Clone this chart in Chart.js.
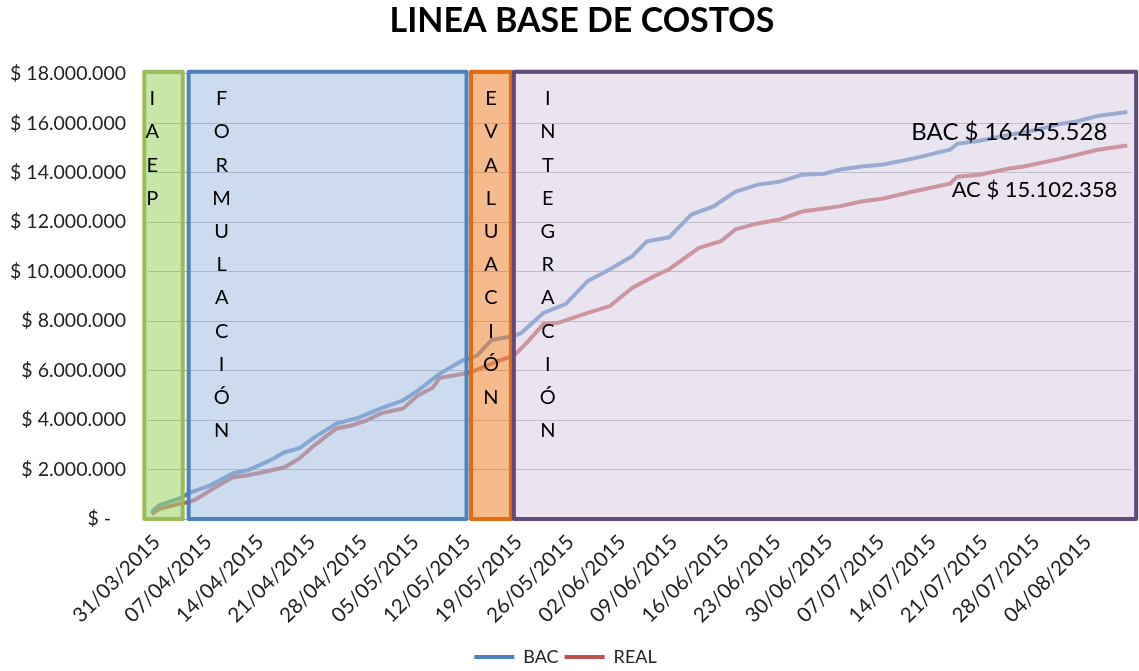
<!DOCTYPE html>
<html>
<head>
<meta charset="utf-8">
<script src="https://cdn.jsdelivr.net/npm/chart.js@4/dist/chart.umd.min.js"></script>
<style>
  html, body { margin: 0; padding: 0; background: #fff; }
</style>
</head>
<body>
<canvas id="costChart" width="1139" height="671"></canvas>
<script>
// dias contados desde 31/03/2015
const tickDays = [0, 7, 14, 21, 28, 35, 42, 49, 56, 63, 70, 77, 84, 91, 98, 105, 112, 119, 126];
const tickLabels = ['31/03/2015', '07/04/2015', '14/04/2015', '21/04/2015', '28/04/2015', '05/05/2015',
  '12/05/2015', '19/05/2015', '26/05/2015', '02/06/2015', '09/06/2015', '16/06/2015', '23/06/2015',
  '30/06/2015', '07/07/2015', '14/07/2015', '21/07/2015', '28/07/2015', '04/08/2015'];

const bacDays = [0, 1, 4, 5, 8, 11, 13, 16, 18, 20, 22, 25, 28, 31, 34, 36, 39, 42, 44, 46,
  49, 50, 53, 56, 59, 62, 65, 67, 70, 73, 76, 79, 82, 85, 88, 91, 93, 96, 99, 103,
  108, 109, 112, 116, 119, 123, 125, 128, 132];
const bacValues = [280000, 560000, 850000, 1050000, 1370000, 1850000, 1970000, 2370000, 2700000, 2860000,
  3300000, 3860000, 4100000, 4470000, 4790000, 5190000, 5880000, 6400000, 6600000, 7240000,
  7400000, 7520000, 8330000, 8690000, 9620000, 10100000, 10620000, 11230000, 11390000, 12310000,
  12640000, 13240000, 13520000, 13640000, 13920000, 13960000, 14120000, 14250000, 14330000, 14570000,
  14930000, 15170000, 15290000, 15530000, 15690000, 15980000, 16060000, 16300000, 16455528];

const realDays = [0, 1, 4, 5, 6, 8, 11, 13, 15, 18, 20, 22, 25, 27, 29, 31, 34, 36, 38, 39,
  43, 47, 49, 51, 53, 55, 59, 62, 65, 68, 70, 74, 77, 79, 82, 85, 88, 91, 93, 96,
  99, 103, 108, 109, 112, 116, 118, 123, 128, 132];
const realValues = [200000, 400000, 640000, 680000, 800000, 1170000, 1690000, 1770000, 1890000, 2090000,
  2450000, 2980000, 3660000, 3780000, 3980000, 4270000, 4470000, 4990000, 5310000, 5710000,
  5910000, 6400000, 6600000, 7200000, 7890000, 7930000, 8330000, 8610000, 9340000, 9820000,
  10100000, 10950000, 11230000, 11710000, 11950000, 12110000, 12430000, 12550000, 12640000, 12840000,
  12960000, 13240000, 13560000, 13840000, 13920000, 14170000, 14250000, 14570000, 14930000, 15102358];

// fases del proyecto (inicio / fin en dias)
const phaseNames = ['IAEP', 'FORMULACIÓN', 'EVALUACIÓN', 'INTEGRACIÓN'];
const phaseStart = [-1, 5, 43.2, 49];
const phaseEnd = [4.2, 42.6, 48.6, 133.2];

const phaseFill = ['rgba(160,215,110,0.6)', 'rgba(170,195,225,0.6)', 'rgba(240,150,80,0.65)', 'rgba(215,205,228,0.55)'];
const phaseBorder = ['#9bbb59', '#4f81bd', '#e46c0a', '#604a7b'];
const phaseTextOffset = [8, 33, 20, 34];

const FONT = 'Lato, "Open Sans", sans-serif';

function money(v) {
  if (v === 0) return '$ -   ';
  return '$ ' + Math.round(v).toString().replace(/\B(?=(\d{3})+(?!\d))/g, '.');
}

const phasePlugin = {
  id: 'phases',
  afterDatasetsDraw(chart) {
    const { ctx, scales: { x, y } } = chart;
    const top = y.getPixelForValue(18000000) - 2;
    const bottom = y.getPixelForValue(0);
    phaseNames.forEach((name, i) => {
      const x0 = x.getPixelForValue(phaseStart[i]);
      const x1 = x.getPixelForValue(phaseEnd[i]);
      ctx.save();
      ctx.fillStyle = phaseFill[i];
      ctx.fillRect(x0, top, x1 - x0, bottom - top);
      ctx.lineWidth = 4;
      ctx.lineJoin = 'round';
      ctx.strokeStyle = phaseBorder[i];
      ctx.strokeRect(x0, top, x1 - x0, bottom - top);
      ctx.fillStyle = '#000';
      ctx.font = '20px ' + FONT;
      ctx.textAlign = 'center';
      ctx.textBaseline = 'middle';
      Array.from(name).forEach((ch, k) => {
        ctx.fillText(ch, x0 + phaseTextOffset[i], top + 27 + k * 33.2);
      });
      ctx.restore();
    });

    // etiquetas finales
    const lastBac = bacValues[bacValues.length - 1];
    const lastReal = realValues[realValues.length - 1];
    const xb = x.getPixelForValue(bacDays[bacDays.length - 1]);
    const yb = y.getPixelForValue(lastBac);
    const xr = x.getPixelForValue(realDays[realDays.length - 1]);
    const yr = y.getPixelForValue(lastReal);
    ctx.save();
    ctx.fillStyle = '#000';
    ctx.textAlign = 'right';
    ctx.textBaseline = 'middle';
    ctx.font = '24px ' + FONT;
    ctx.fillText('BAC ' + money(lastBac), xb - 20, yb + 20);
    ctx.font = '22px ' + FONT;
    ctx.fillText('AC ' + money(lastReal), xr - 10, yr + 44);
    ctx.restore();
  }
};

new Chart(document.getElementById('costChart'), {
  type: 'line',
  data: {
    datasets: [{
      label: 'BAC',
      data: bacDays.map((d, i) => ({ x: d, y: bacValues[i] })),
      borderColor: '#4f81bd',
      backgroundColor: '#4f81bd',
      borderWidth: 4,
      pointRadius: 0,
      pointStyle: 'line',
      pointBorderWidth: 4,
      pointBorderColor: '#4f81bd'
    }, {
      label: 'REAL',
      data: realDays.map((d, i) => ({ x: d, y: realValues[i] })),
      borderColor: '#c0504d',
      backgroundColor: '#c0504d',
      borderWidth: 4,
      pointRadius: 0,
      pointStyle: 'line',
      pointBorderWidth: 4,
      pointBorderColor: '#c0504d'
    }]
  },
  options: {
    responsive: false,
    animation: false,
    devicePixelRatio: 1,
    layout: { padding: { right: 8 } },
    plugins: {
      title: {
        display: true,
        text: '    LINEA BASE DE COSTOS',
        color: '#000',
        font: { family: FONT, size: 34, weight: 'bold' },
        padding: { top: 1, bottom: 32 }
      },
      legend: {
        position: 'bottom',
        maxHeight: 29,
        labels: {
          usePointStyle: true,
          pointStyleWidth: 40,
          color: '#222',
          font: { family: FONT, size: 18 },
          padding: 6
        }
      },
      tooltip: { enabled: false }
    },
    scales: {
      x: {
        type: 'linear',
        min: -0.5,
        max: 132.5,
        afterBuildTicks: s => { s.ticks = tickDays.map(v => ({ value: v })); },
        afterFit: s => { s.height = 123; },
        ticks: {
          autoSkip: false,
          maxRotation: 45,
          minRotation: 45,
          labelOffset: 5,
          color: '#222',
          font: { family: FONT, size: 20.5 },
          callback: (v, i) => tickLabels[i]
        },
        grid: { display: false },
        border: { display: false }
      },
      y: {
        min: 0,
        max: 18000000,
        afterFit: s => { s.width = 148; },
        ticks: {
          stepSize: 2000000,
          padding: 22,
          color: '#222',
          font: { family: FONT, size: 19.5 },
          callback: v => money(v)
        },
        grid: { color: '#a6a6a6', drawTicks: false },
        border: { display: false }
      }
    }
  },
  plugins: [phasePlugin]
});
</script>
</body>
</html>
